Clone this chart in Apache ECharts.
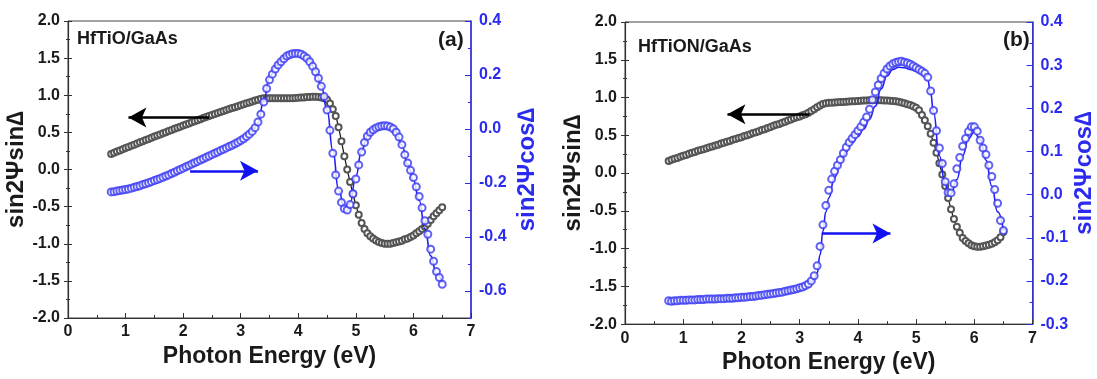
<!DOCTYPE html>
<html>
<head>
<meta charset="utf-8">
<script src="https://cdn.jsdelivr.net/npm/echarts@6/dist/echarts.min.js"></script>
<style>
html,body{margin:0;padding:0;background:#fff;}
#c{width:1097px;height:379px;}
</style>
</head>
<body>
<div id="c"></div>
<script>
// Photon energy grid of measured points (eV)
const E = [
0.75,0.80,0.85,0.90,0.95,
1.00,1.05,1.10,1.15,1.20,1.25,1.30,1.35,1.40,1.45,1.50,1.55,1.60,1.65,1.70,1.75,1.80,1.85,1.90,1.95,
2.00,2.05,2.10,2.15,2.20,2.25,2.30,2.35,2.40,2.45,2.50,2.55,2.60,2.65,2.70,2.75,2.80,2.85,2.90,2.95,
3.00,3.05,3.10,3.15,3.20,3.25,3.30,3.35,3.40,3.45,3.50,3.55,3.60,3.65,3.70,3.75,3.80,3.85,3.90,3.95,
4.00,4.05,4.10,4.15,4.20,4.25,4.30,4.35,4.40,4.45,4.50,4.55,4.60,4.65,4.70,4.75,4.80,4.85,4.90,4.95,
5.00,5.05,5.10,5.15,5.20,5.25,5.30,5.35,5.40,5.45,5.50,5.55,5.60,5.65,5.70,5.75,5.80,5.85,5.90,5.95,
6.00,6.05,6.10,6.15,6.20,6.25,6.30,6.35,6.40,6.45,6.50
];
// (a) HfTiO/GaAs : sin2Psi sinDelta (left axis)
const aSin = [
0.21,0.226,0.242,0.257,0.273,
0.289,0.304,0.320,0.335,0.351,0.367,0.382,0.397,0.412,0.428,0.443,0.458,0.473,0.488,0.503,0.518,0.533,0.548,0.562,0.577,
0.592,0.606,0.621,0.635,0.649,0.664,0.678,0.692,0.706,0.720,0.734,0.747,0.761,0.774,0.788,0.801,0.814,0.827,0.840,0.853,
0.866,0.878,0.891,0.903,0.916,0.928,0.940,0.952,0.958,0.960,0.96,0.96,0.96,0.96,0.96,0.96,0.96,0.96,0.96,0.962,
0.965,0.97,0.97,0.975,0.975,0.98,0.98,0.975,0.97,0.96,0.94,0.89,0.81,0.72,0.57,0.38,0.18,0.0,-0.17,-0.33,
-0.48,-0.61,-0.72,-0.80,-0.86,-0.90,-0.93,-0.955,-0.975,-0.99,-1.0,-1.0,-1.0,-0.99,-0.98,-0.97,-0.96,-0.94,-0.93,-0.91,
-0.89,-0.86,-0.83,-0.80,-0.77,-0.73,-0.68,-0.63,-0.59,-0.55,-0.51
];
// (a) sin2Psi cosDelta measured (right axis)
const aCos = [
-0.233,-0.232,-0.230,-0.228,-0.226,
-0.224,-0.222,-0.219,-0.216,-0.213,-0.210,-0.206,-0.203,-0.199,-0.195,-0.191,-0.187,-0.183,-0.179,-0.174,-0.170,-0.165,-0.160,-0.155,-0.150,
-0.145,-0.140,-0.135,-0.130,-0.125,-0.120,-0.115,-0.110,-0.105,-0.100,-0.095,-0.090,-0.085,-0.080,-0.075,-0.070,-0.065,-0.060,-0.055,-0.049,
-0.043,-0.036,-0.028,-0.019,-0.009,0.005,0.026,0.055,0.100,0.150,0.182,0.203,0.222,0.237,0.249,0.260,0.270,0.275,0.279,0.280,
0.280,0.277,0.270,0.262,0.249,0.232,0.212,0.188,0.158,0.120,0.070,-0.005,-0.090,-0.170,-0.230,-0.272,-0.295,-0.300,-0.280,-0.240,
-0.185,-0.133,-0.085,-0.050,-0.027,-0.012,-0.003,0.004,0.008,0.011,0.012,0.011,0.007,0.001,-0.012,-0.030,-0.058,-0.095,-0.126,-0.153,
-0.180,-0.214,-0.250,-0.292,-0.340,-0.390,-0.445,-0.490,-0.528,-0.550,-0.575
];
// (a) sin2Psi cosDelta model fit [eV, value]
const aCosFit = [
[0.75,-0.232],[0.8,-0.231],[0.9,-0.227],[1.0,-0.223],[1.1,-0.218],[1.2,-0.212],[1.3,-0.205],[1.4,-0.198],[1.5,-0.190],[1.6,-0.182],
[1.7,-0.173],[1.8,-0.164],[1.9,-0.154],[2.0,-0.144],[2.1,-0.134],[2.2,-0.124],[2.3,-0.114],[2.4,-0.104],[2.5,-0.094],[2.6,-0.084],
[2.7,-0.074],[2.8,-0.064],[2.9,-0.054],[3.0,-0.043],[3.1,-0.029],[3.2,-0.011],[3.3,0.022],[3.4,0.105],[3.5,0.190],[3.6,0.228],
[3.7,0.255],[3.8,0.275],[3.9,0.285],[4.0,0.288],[4.1,0.278],[4.2,0.255],[4.3,0.215],[4.4,0.160],[4.5,0.070],[4.6,-0.080],
[4.7,-0.225],[4.8,-0.290],[4.9,-0.275],[5.0,-0.175],[5.1,-0.080],[5.2,-0.025],[5.3,0.000],[5.4,0.012],[5.5,0.017],[5.6,0.010],
[5.7,-0.012],[5.8,-0.060],[5.9,-0.130],[6.0,-0.190],[6.1,-0.265],[6.2,-0.370],[6.3,-0.470],[6.4,-0.535],[6.5,-0.570]
];
// (b) HfTiON/GaAs : sin2Psi sinDelta (left axis)
const bSin = [
0.16,0.175,0.19,0.20,0.215,
0.23,0.24,0.255,0.27,0.28,0.295,0.305,0.315,0.33,0.34,0.35,0.365,0.375,0.39,0.40,0.415,0.425,0.44,0.45,0.465,
0.475,0.49,0.50,0.515,0.53,0.54,0.555,0.57,0.58,0.595,0.61,0.625,0.64,0.65,0.665,0.68,0.695,0.71,0.725,0.74,
0.75,0.765,0.78,0.80,0.82,0.845,0.87,0.895,0.915,0.925,0.93,0.932,0.935,0.937,0.94,0.942,0.945,0.947,0.95,0.952,
0.955,0.957,0.96,0.962,0.963,0.965,0.965,0.965,0.963,0.962,0.96,0.958,0.955,0.95,0.945,0.935,0.925,0.91,0.90,0.885,
0.865,0.83,0.77,0.70,0.62,0.52,0.40,0.27,0.13,-0.02,-0.17,-0.33,-0.48,-0.61,-0.71,-0.79,-0.86,-0.90,-0.93,-0.955,
-0.97,-0.975,-0.975,-0.97,-0.96,-0.95,-0.935,-0.915,-0.89,-0.85,-0.78
];
// (b) sin2Psi cosDelta measured (right axis)
const bCos = [
-0.246,-0.247,-0.246,-0.246,-0.245,
-0.245,-0.245,-0.244,-0.244,-0.244,-0.243,-0.243,-0.243,-0.242,-0.242,-0.242,-0.242,-0.241,-0.241,-0.241,-0.240,-0.240,-0.240,-0.239,-0.239,
-0.238,-0.238,-0.237,-0.236,-0.236,-0.235,-0.234,-0.233,-0.232,-0.231,-0.230,-0.229,-0.228,-0.227,-0.226,-0.224,-0.223,-0.221,-0.220,-0.218,
-0.216,-0.214,-0.211,-0.207,-0.200,-0.188,-0.165,-0.120,-0.070,-0.025,0.010,0.036,0.054,0.068,0.081,0.096,0.110,0.121,0.130,0.139,
0.148,0.157,0.168,0.180,0.198,0.220,0.238,0.254,0.269,0.281,0.291,0.298,0.303,0.306,0.308,0.309,0.307,0.305,0.302,0.298,
0.294,0.290,0.286,0.281,0.272,0.240,0.195,0.148,0.108,0.072,0.030,0.005,0.004,0.025,0.060,0.086,0.112,0.130,0.146,0.157,
0.157,0.147,0.126,0.108,0.093,0.068,0.042,0.012,-0.020,-0.060,-0.083
];
// (b) sin2Psi cosDelta model fit [eV, value]
const bCosFit = [
[0.75,-0.246],[0.8,-0.246],[0.9,-0.246],[1.0,-0.245],[1.1,-0.245],[1.2,-0.244],[1.3,-0.243],[1.4,-0.243],[1.5,-0.242],[1.6,-0.241],
[1.7,-0.241],[1.8,-0.240],[1.9,-0.239],[2.0,-0.238],[2.1,-0.237],[2.2,-0.236],[2.3,-0.234],[2.4,-0.232],[2.5,-0.230],[2.6,-0.228],
[2.7,-0.226],[2.8,-0.223],[2.9,-0.220],[3.0,-0.217],[3.1,-0.212],[3.2,-0.203],[3.25,-0.196],[3.3,-0.182],[3.35,-0.140],[3.4,-0.085],
[3.45,-0.040],[3.5,-0.008],[3.6,0.040],[3.7,0.074],[3.8,0.100],[3.9,0.120],[4.0,0.135],[4.1,0.152],[4.2,0.175],[4.3,0.205],
[4.4,0.245],[4.5,0.275],[4.6,0.290],[4.7,0.295],[4.8,0.294],[4.9,0.290],[5.0,0.286],[5.1,0.280],[5.2,0.265],[5.25,0.235],
[5.3,0.190],[5.4,0.090],[5.5,0.025],[5.55,0.004],[5.6,0.002],[5.7,0.035],[5.8,0.090],[5.9,0.130],[6.0,0.145],[6.1,0.128],
[6.2,0.080],[6.3,0.020],[6.4,-0.040],[6.5,-0.083]
];
// Tick label values for panel (a) right axis
const aRightLabels = [-0.6,-0.4,-0.2,0.0,0.2,0.4];
// Arrow annotations [x0,y0,x1,y1] in data units
const arrowA_black = [2.45,0.70,1.05,0.70];
const arrowA_blue = [2.12,-0.155,3.30,-0.155];
const arrowB_black = [3.17,0.78,1.76,0.78];
const arrowB_blue = [3.38,-0.09,4.56,-0.09];

const FONT = 'Liberation Sans, Arial, sans-serif';
const BLACK = '#1a1a1a';
const BLUE = '#2b2bf0';
const zip = (xs, ys) => xs.map((x, i) => [x, ys[i]]);

function xAxisCfg(gi, gap){
  return {
    gridIndex: gi, type: 'value', min: 0, max: 7, interval: 1,
    name: 'Photon Energy (eV)', nameLocation: 'middle', nameGap: gap,
    nameTextStyle: {fontFamily: FONT, fontWeight: 'bold', fontSize: 23, color: BLACK},
    axisLine: {show: true, onZero: false, lineStyle: {color: '#333', width: 1.2}},
    axisTick: {show: true, inside: true, length: 5, lineStyle: {color: '#333'}},
    minorTick: {show: true, splitNumber: 2, length: 3, lineStyle: {color: '#333'}},
    axisLabel: {fontFamily: FONT, fontWeight: 'bold', fontSize: 16, color: BLACK, margin: 6},
    splitLine: {show: false}
  };
}
function leftAxisCfg(gi, gap){
  return {
    gridIndex: gi, type: 'value', position: 'left', min: -2, max: 2, interval: 0.5,
    name: 'sin2Ψsin∆', nameLocation: 'middle', nameGap: gap, nameRotate: 90,
    nameTextStyle: {fontFamily: FONT, fontWeight: 'bold', fontSize: 24, color: BLACK},
    axisLine: {show: true, onZero: false, lineStyle: {color: '#333', width: 1.2}},
    axisTick: {show: true, inside: true, length: 4, lineStyle: {color: '#333'}},
    minorTick: {show: true, splitNumber: 2, length: 2, lineStyle: {color: '#333'}},
    axisLabel: {fontFamily: FONT, fontWeight: 'bold', fontSize: 16, color: BLACK, margin: 8,
      formatter: v => v.toFixed(1)},
    splitLine: {show: false}
  };
}
function leftOuterTicks(gi){
  return {
    gridIndex: gi, type: 'value', position: 'left', min: -2, max: 2, interval: 0.5,
    axisLine: {show: false, onZero: false},
    axisTick: {show: true, inside: false, length: 4, lineStyle: {color: '#333'}},
    minorTick: {show: true, splitNumber: 2, length: 2, lineStyle: {color: '#333'}},
    axisLabel: {show: false}, splitLine: {show: false}
  };
}
const blueName = {fontFamily: FONT, fontWeight: 'bold', fontSize: 24, color: BLUE};

const arrowLine = (a, color) => ({
  silent: true, animation: false,
  symbol: ['none', 'arrow'], symbolSize: [15, 18],
  label: {show: false},
  lineStyle: {color: color, width: 2.6, type: 'solid'},
  emphasis: {disabled: true},
  data: [[{coord: [a[0], a[1]]}, {coord: [a[2], a[3]]}]]
});

const option = {
  animation: false,
  backgroundColor: '#fff',
  grid: [
    {left: 68, right: 626, top: 21, bottom: 61, show: true, borderColor: '#444', borderWidth: 1},
    {left: 625, right: 58, top: 22, bottom: 52, show: true, borderColor: '#444', borderWidth: 1}
  ],
  xAxis: [xAxisCfg(0, 25), xAxisCfg(1, 25)],
  yAxis: [
    leftAxisCfg(0, 38),
    { // (a) right axis
      gridIndex: 0, type: 'value', position: 'right', min: -0.7, max: 0.4, interval: 0.1,
      name: 'sin2Ψcos∆', nameLocation: 'middle', nameGap: 44, nameRotate: 90, nameTextStyle: blueName,
      axisLine: {show: true, onZero: false, lineStyle: {color: BLUE, width: 1.5}},
      axisTick: {show: true, inside: true, length: 3, lineStyle: {color: BLUE}},
      axisLabel: {fontFamily: FONT, fontWeight: 'bold', fontSize: 16, color: BLUE, margin: 8,
        customValues: aRightLabels, formatter: v => v.toFixed(1)},
      splitLine: {show: false}
    },
    { // (a) right axis major ticks overlay
      gridIndex: 0, type: 'value', position: 'right', min: -0.7, max: 0.4, interval: 0.1,
      axisLine: {show: false, onZero: false},
      axisTick: {show: true, inside: true, length: 6, customValues: aRightLabels, lineStyle: {color: BLUE}},
      axisLabel: {show: false}, splitLine: {show: false}
    },
    leftAxisCfg(1, 37),
    { // (b) right axis
      gridIndex: 1, type: 'value', position: 'right', min: -0.3, max: 0.4, interval: 0.1,
      name: 'sin2Ψcos∆', nameLocation: 'middle', nameGap: 39, nameRotate: 90, nameTextStyle: blueName,
      axisLine: {show: true, onZero: false, lineStyle: {color: BLUE, width: 1.5}},
      axisTick: {show: true, inside: true, length: 6, lineStyle: {color: BLUE}},
      minorTick: {show: true, splitNumber: 2, length: 3, lineStyle: {color: BLUE}},
      axisLabel: {fontFamily: FONT, fontWeight: 'bold', fontSize: 16, color: BLUE, margin: 8,
        formatter: v => v.toFixed(1)},
      splitLine: {show: false}
    },
    leftOuterTicks(0),
    leftOuterTicks(1)
  ],
  graphic: [
    {type: 'text', left: 77, top: 30, style: {text: 'HfTiO/GaAs', font: 'bold 18px ' + FONT, fill: BLACK}},
    {type: 'text', left: 438, top: 30, style: {text: '(a)', font: 'bold 21px ' + FONT, fill: BLACK}},
    {type: 'text', left: 638, top: 38, style: {text: 'HfTiON/GaAs', font: 'bold 18px ' + FONT, fill: BLACK}},
    {type: 'text', left: 1003, top: 30, style: {text: '(b)', font: 'bold 21px ' + FONT, fill: BLACK}}
  ],
  series: [
    {
      type: 'line', xAxisIndex: 0, yAxisIndex: 0, data: zip(E, aSin),
      symbol: 'emptyCircle', symbolSize: 6, showAllSymbol: true, smooth: 0.2,
      lineStyle: {color: '#111', width: 1.2},
      itemStyle: {color: '#555', borderColor: '#555', borderWidth: 1},
      markLine: arrowLine(arrowA_black, '#000'), z: 2
    },
    {
      type: 'line', xAxisIndex: 0, yAxisIndex: 1, data: aCosFit,
      showSymbol: false, smooth: true, smoothMonotone: 'x',
      lineStyle: {color: '#1f1ff5', width: 1.6}, z: 3
    },
    {
      type: 'scatter', xAxisIndex: 0, yAxisIndex: 1, data: zip(E, aCos),
      symbol: 'emptyCircle', symbolSize: 7,
      itemStyle: {color: '#3a3af2', borderColor: '#3a3af2', borderWidth: 1.1},
      markLine: arrowLine(arrowA_blue, '#1212f0'), z: 4
    },
    {
      type: 'line', xAxisIndex: 1, yAxisIndex: 3, data: zip(E, bSin),
      symbol: 'emptyCircle', symbolSize: 6, showAllSymbol: true, smooth: 0.2,
      lineStyle: {color: '#111', width: 1.2},
      itemStyle: {color: '#555', borderColor: '#555', borderWidth: 1},
      markLine: arrowLine(arrowB_black, '#000'), z: 2
    },
    {
      type: 'line', xAxisIndex: 1, yAxisIndex: 4, data: bCosFit,
      showSymbol: false, smooth: true, smoothMonotone: 'x',
      lineStyle: {color: '#1f1ff5', width: 1.6}, z: 3
    },
    {
      type: 'scatter', xAxisIndex: 1, yAxisIndex: 4, data: zip(E, bCos),
      symbol: 'emptyCircle', symbolSize: 7,
      itemStyle: {color: '#3a3af2', borderColor: '#3a3af2', borderWidth: 1.1},
      markLine: arrowLine(arrowB_blue, '#1212f0'), z: 4
    }
  ]
};
const chart = echarts.init(document.getElementById('c'), null, {renderer: 'canvas'});
chart.setOption(option);
</script>
</body>
</html>
